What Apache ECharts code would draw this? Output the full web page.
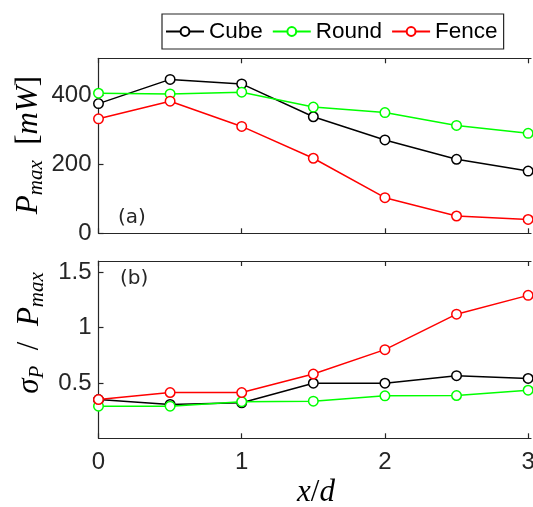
<!DOCTYPE html>
<html>
<head>
<meta charset="utf-8">
<script src="https://cdn.jsdelivr.net/npm/echarts@6/dist/echarts.min.js"></script>
<style>
  html, body { margin: 0; padding: 0; background: #fff; }
  #chart { width: 533px; height: 507px; }
</style>
</head>
<body>
<div id="chart"></div>
<script>
// Downstream distance x/d
const xValues = [0, 0.5, 1, 1.5, 2, 2.5, 3];

// Peak power P_max [mW]
const cubePmax  = [375, 445, 432, 337, 270, 214, 180];
const roundPmax = [405, 403, 408, 365, 349, 312, 289];
const fencePmax = [331, 382, 309, 217, 103, 50, 40];

// Normalised fluctuation sigma_P / P_max
const cubeSigma  = [0.35, 0.305, 0.32, 0.497, 0.497, 0.565, 0.54];
const roundSigma = [0.29, 0.29, 0.33, 0.335, 0.383, 0.386, 0.434];
const fenceSigma = [0.35, 0.413, 0.413, 0.58, 0.8, 1.12, 1.29];

// Tick positions
const xTicks = [0, 1, 2, 3];
const pmaxTicks = [0, 200, 400];
const sigmaTicks = [0.5, 1, 1.5];

const seriesNames = ['Cube', 'Round', 'Fence'];
const seriesColors = ['#000000', '#00ff00', '#ff0000'];

const axisColor = '#262626';
const tickFont = 'Liberation Sans, Arial, sans-serif';
const mathFont = 'Liberation Serif, Times New Roman, serif';

function pairs(values) {
  return xValues.map((x, i) => [x, values[i]]);
}

function lineSeries(idx, values, panel) {
  const c = seriesColors[idx];
  return {
    name: seriesNames[idx],
    type: 'line',
    xAxisIndex: panel * 2,
    yAxisIndex: panel,
    data: pairs(values),
    color: c,
    symbol: 'circle',
    symbolSize: 9.5,
    lineStyle: { color: c, width: 1.5 },
    itemStyle: { color: '#fff', borderColor: c, borderWidth: 1.5 },
    emphasis: { disabled: true },
    silent: true,
    z: 2 + idx
  };
}

function xAxisFor(grid, position, showLabels) {
  return {
    type: 'value',
    gridIndex: grid,
    position: position,
    min: 0,
    max: 3.02,
    axisLine: { show: true, onZero: false, lineStyle: { color: axisColor, width: 1.2 } },
    axisTick: { show: true, inside: true, length: 5, customValues: xTicks,
                lineStyle: { color: axisColor, width: 1.2 } },
    axisLabel: { show: showLabels, customValues: xTicks, fontSize: 24, color: axisColor,
                 margin: 12, fontFamily: tickFont },
    splitLine: { show: false }
  };
}

function yAxisFor(grid, max, ticks) {
  return {
    type: 'value',
    gridIndex: grid,
    min: 0,
    max: max,
    axisLine: { show: true, onZero: false, lineStyle: { color: axisColor, width: 1.2 } },
    axisTick: { show: true, inside: true, length: 5, customValues: ticks,
                lineStyle: { color: axisColor, width: 1.2 } },
    axisLabel: { customValues: ticks, fontSize: 24, color: axisColor, margin: 7,
                 fontFamily: tickFont },
    splitLine: { show: false }
  };
}

const mathRich = {
  i: { fontFamily: mathFont, fontStyle: 'italic', fontSize: 31, lineHeight: 36, color: axisColor },
  u: { fontFamily: mathFont, fontSize: 31, lineHeight: 36, color: axisColor },
  s: { fontFamily: mathFont, fontStyle: 'italic', fontSize: 21, lineHeight: 19,
       verticalAlign: 'bottom', color: axisColor }
};

const chart = echarts.init(document.getElementById('chart'), null, { renderer: 'canvas' });

chart.setOption({
  animation: false,
  backgroundColor: '#ffffff',
  legend: {
    data: seriesNames,
    left: 162,
    top: 14,
    orient: 'horizontal',
    itemWidth: 38,
    itemHeight: 11,
    itemGap: 9,
    padding: [6, 6, 6, 3],
    borderColor: axisColor,
    borderWidth: 1.2,
    backgroundColor: '#fff',
    selectedMode: false,
    textStyle: { fontSize: 22.5, color: '#000', fontFamily: tickFont }
  },
  grid: [
    { left: 98.5, top: 58.3, right: 2, height: 175, outerBoundsMode: 'none' },
    { left: 98.5, top: 261, right: 2, height: 177.3, outerBoundsMode: 'none' }
  ],
  xAxis: [
    xAxisFor(0, 'bottom', false),
    xAxisFor(0, 'top', false),
    xAxisFor(1, 'bottom', true),
    xAxisFor(1, 'top', false)
  ],
  yAxis: [
    yAxisFor(0, 506, pmaxTicks),
    yAxisFor(1, 1.6, sigmaTicks)
  ],
  series: [
    lineSeries(0, cubePmax, 0),
    lineSeries(1, roundPmax, 0),
    lineSeries(2, fencePmax, 0),
    lineSeries(0, cubeSigma, 1),
    lineSeries(1, roundSigma, 1),
    lineSeries(2, fenceSigma, 1)
  ],
  graphic: [
    {
      type: 'text', x: 118, y: 218,
      style: { text: '(a)', fontFamily: 'DejaVu Sans, sans-serif', fontSize: 20,
               fill: axisColor, align: 'left', verticalAlign: 'middle' }
    },
    {
      type: 'text', x: 120, y: 279,
      style: { text: '(b)', fontFamily: 'DejaVu Sans, sans-serif', fontSize: 20,
               fill: axisColor, align: 'left', verticalAlign: 'middle' }
    },
    {
      type: 'text', x: 29, y: 145, rotation: Math.PI / 2,
      style: { text: '{i|P}{s|max}{u|  [}{i|mW}{u|]}', rich: mathRich,
               align: 'center', verticalAlign: 'middle' }
    },
    {
      type: 'text', x: 30, y: 333, rotation: Math.PI / 2,
      style: { text: '{i|σ}{s|P}{u|  /  }{i|P}{s|max}', rich: mathRich,
               align: 'center', verticalAlign: 'middle' }
    },
    {
      type: 'text', x: 316, y: 493,
      style: { text: '{i|x}{u|/}{i|d}', rich: mathRich,
               align: 'center', verticalAlign: 'middle' }
    }
  ]
});
</script>
</body>
</html>
